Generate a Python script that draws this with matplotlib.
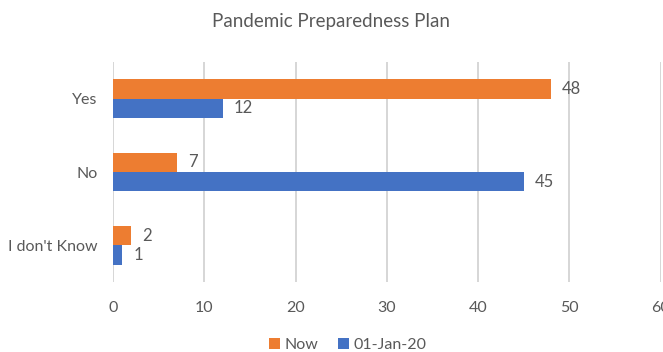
import matplotlib
matplotlib.use("Agg")
import matplotlib.pyplot as plt
import numpy as np

categories = ["Yes", "No", "I don't Know"]
now_values = [48, 7, 2]
jan_values = [12, 45, 1]
series_names = ["Now", "01-Jan-20"]
x_ticks = [0, 10, 20, 30, 40, 50, 60]

plt.rcParams["font.family"] = ["Lato", "DejaVu Sans"]
text_color = "#595959"
orange = "#ED7D31"
blue = "#4472C4"

fig = plt.figure(figsize=(6.63, 3.52), dpi=100)
ax = fig.add_axes([113 / 663, 70 / 352, 547.5 / 663, 220 / 352])

y = np.arange(len(categories))
h = 0.265
bars_now = ax.barh(y - h / 2, now_values, height=h, color=orange, label=series_names[0], zorder=3)
bars_jan = ax.barh(y + h / 2, jan_values, height=h, color=blue, label=series_names[1], zorder=3)

for bars in (bars_now, bars_jan):
    for b in bars:
        w = b.get_width()
        ax.annotate(f"{w:g}", (w, b.get_y() + b.get_height() / 2),
                    xytext=(8, 0), textcoords="offset points",
                    va="center", ha="left", fontsize=12, color=text_color)

ax.set_xlim(0, 60)
ax.set_ylim(len(categories) - 0.5, -0.5)
ax.set_xticks(x_ticks)
ax.set_yticks(y)
ax.set_yticklabels(categories)
ax.tick_params(axis="both", length=0, labelsize=11.5, colors=text_color)
ax.tick_params(axis="x", pad=14)
ax.tick_params(axis="y", pad=11)
ax.grid(axis="x", color="#D0D0D0", linewidth=1.2, zorder=0)
for s in ax.spines.values():
    s.set_visible(False)

fig.text(0.5, 1 - 22 / 352, "Pandemic Preparedness Plan", ha="center", va="center",
         fontsize=13.5, color=text_color)

fig.legend(handles=[bars_now, bars_jan], labels=series_names, loc="center",
           bbox_to_anchor=(348 / 663, 1 - 345 / 352), ncol=2, frameon=False,
           fontsize=11.5, labelcolor=text_color, handlelength=0.7, handleheight=0.7,
           handletextpad=0.3, columnspacing=1.2)

fig.savefig("out.png", dpi=100)
